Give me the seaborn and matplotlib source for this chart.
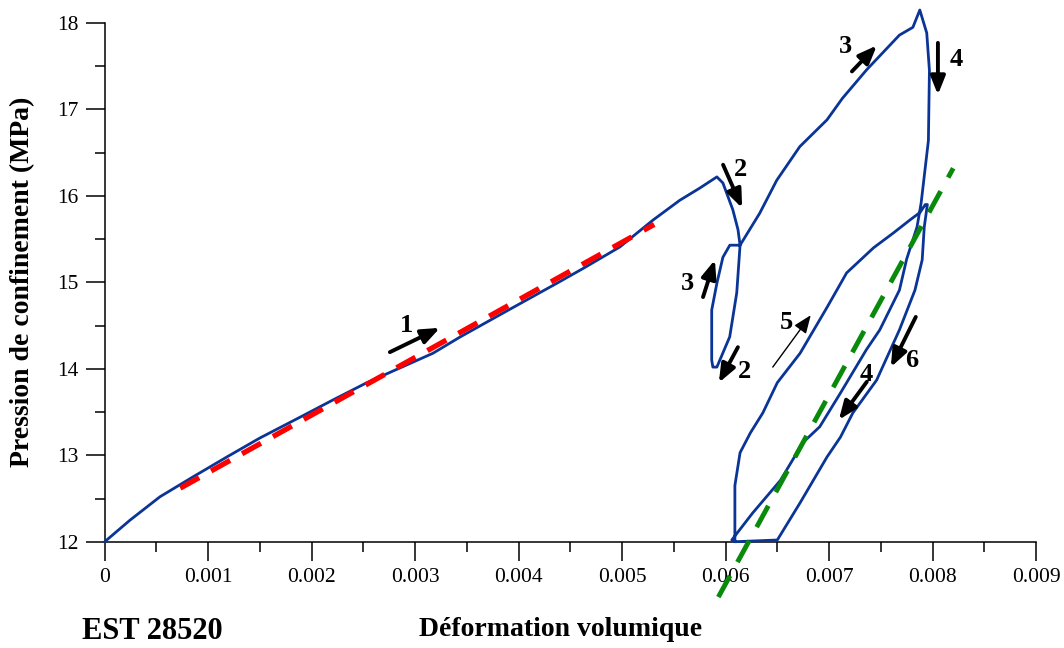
import pandas as pd
import seaborn as sns
import matplotlib.pyplot as plt
from matplotlib.ticker import AutoMinorLocator

# volumetric strain vs confining pressure (MPa) in test order
# 1 loading, 2 unloading, 3 reloading, 4 unloading, 5 reloading, 6 unloading
strain = [
    0.0, 0.000245, 0.000534, 0.000853, 0.00118, 0.0015, 0.001887, 0.002206,
    0.002534, 0.002853, 0.003172, 0.003437, 0.003887, 0.00437, 0.004622,
    0.004979, 0.005298, 0.005558, 0.00575, 0.005916,
    0.005974, 0.00607, 0.00612, 0.00614, 0.006108, 0.00604, 0.005916,
    0.005877, 0.005866, 0.005866, 0.005916, 0.005974, 0.006041, 0.00614,
    0.00633, 0.006494, 0.006717, 0.00698, 0.00713, 0.007364, 0.00768,
    0.00781, 0.007877,
    0.007944, 0.00797, 0.00796, 0.00789, 0.00785, 0.00775, 0.00768, 0.00749,
    0.00736, 0.00711, 0.00691, 0.00675, 0.00653, 0.00626, 0.00606,
    0.00609, 0.00609, 0.00614, 0.00624, 0.00636, 0.0065, 0.00672, 0.00698,
    0.00717, 0.00743, 0.00762, 0.00778, 0.00788, 0.00793,
    0.00795, 0.00792, 0.0079, 0.00783, 0.00768, 0.00746, 0.00723, 0.00711,
    0.00698, 0.00672, 0.0065, 0.00609,
]
pressure = [
    12.0, 12.25, 12.52, 12.75, 12.98, 13.2, 13.44, 13.64,
    13.84, 14.01, 14.18, 14.37, 14.67, 14.99, 15.16,
    15.41, 15.72, 15.95, 16.09, 16.22,
    16.15, 15.84, 15.61, 15.43, 14.88, 14.37, 14.02,
    14.02, 14.1, 14.68, 14.99, 15.29, 15.43, 15.43,
    15.8, 16.18, 16.57, 16.88, 17.13, 17.46, 17.86,
    17.95, 18.15,
    17.885, 17.45, 16.64, 15.92, 15.64, 15.27, 14.91, 14.45,
    14.22, 13.72, 13.33, 13.15, 12.71, 12.33, 12.02,
    12.0, 12.65, 13.03, 13.26, 13.49, 13.84, 14.18, 14.71,
    15.11, 15.4, 15.57, 15.72, 15.81, 15.9,
    15.9, 15.64, 15.26, 14.91, 14.45, 13.87, 13.49, 13.21,
    12.98, 12.45, 12.02, 12.0,
]

# straight lines drawn over the curve
red_x = [0.00073, 0.00531]
red_y = [12.62, 15.67]
green_x = [0.00593, 0.0082]
green_y = [11.36, 16.32]

x_ticks = [0, 0.001, 0.002, 0.003, 0.004, 0.005, 0.006, 0.007, 0.008, 0.009]
x_tick_labels = ["0", "0.001", "0.002", "0.003", "0.004",
                 "0.005", "0.006", "0.007", "0.008", "0.009"]
y_ticks = [12, 13, 14, 15, 16, 17, 18]
y_tick_labels = ["12", "13", "14", "15", "16", "17", "18"]

# step arrows: label, tail, head, label position, shaft width
steps = [
    ("1", (0.002756, 14.193), (0.00324, 14.474), (0.00292, 14.50), 2.8),
    ("2", (0.005976, 16.36), (0.00616, 15.86), (0.00614, 16.30), 2.8),
    ("3", (0.005782, 14.83), (0.005897, 15.26), (0.005636, 14.99), 2.8),
    ("2", (0.006119, 14.25), (0.005935, 13.84), (0.006186, 13.97), 2.8),
    ("3", (0.007221, 17.44), (0.007462, 17.74), (0.007163, 17.73), 2.8),
    ("4", (0.008052, 17.77), (0.008052, 17.17), (0.008226, 17.58), 2.8),
    ("5", (0.006456, 14.02), (0.006823, 14.62), (0.006592, 14.54), 1.0),
    ("4", (0.007365, 13.85), (0.007095, 13.41), (0.007355, 13.93), 2.8),
    ("6", (0.007838, 14.60), (0.007597, 14.02), (0.007803, 14.10), 2.8),
]

sns.set_style("ticks")
plt.rcParams["font.family"] = ["Liberation Serif", "DejaVu Serif"]
plt.rcParams["text.color"] = "black"
plt.rcParams["xtick.color"] = "black"
plt.rcParams["ytick.color"] = "black"

fig = plt.figure(figsize=(10.64, 6.48), dpi=100)
ax = fig.add_axes([0.0984, 0.164, 0.8753, 0.8005])

df = pd.DataFrame({"strain": strain, "pressure": pressure})
sns.lineplot(data=df, x="strain", y="pressure", sort=False, estimator=None,
             color="#0a3596", lw=2.0, ax=ax, zorder=3)
ax.lines[-1].set_clip_on(False)

sns.lineplot(x=red_x, y=red_y, color="#ff0000", lw=3.8, ax=ax, zorder=4)
red_line = ax.lines[-1]
red_line.set_dashes((4.1, 2.6))
red_line.set_dash_capstyle("butt")

sns.lineplot(x=green_x, y=green_y, color="#0a8a0a", lw=3.5, ax=ax, zorder=4)
green_line = ax.lines[-1]
green_line.set_dashes((5.0, 3.2))
green_line.set_dash_capstyle("butt")
green_line.set_clip_on(False)

for label, tail, head, text_pos, shaft in steps:
    ax.annotate("", xy=head, xytext=tail,
                arrowprops=dict(arrowstyle="-|>,head_length=0.55,head_width=0.22",
                                lw=shaft, color="black", mutation_scale=20,
                                shrinkA=0, shrinkB=0), zorder=5)
    ax.text(text_pos[0], text_pos[1], label, fontsize=19, fontweight="bold",
            ha="center", va="center", color="black", zorder=5)

ax.set_xlim(0, 0.009)
ax.set_ylim(12, 18)
ax.set_xticks(x_ticks)
ax.set_xticklabels(x_tick_labels)
ax.set_yticks(y_ticks)
ax.set_yticklabels(y_tick_labels)
ax.xaxis.set_minor_locator(AutoMinorLocator(2))
ax.yaxis.set_minor_locator(AutoMinorLocator(2))
ax.tick_params(which="major", direction="out", length=14, width=1.1,
               labelsize=15.5, pad=5, colors="black")
ax.tick_params(which="minor", direction="out", length=7, width=1.1,
               colors="black")
ax.set_xlabel("")
ax.set_ylabel("")
sns.despine(ax=ax)
for side in ["left", "bottom"]:
    ax.spines[side].set_linewidth(1.1)
    ax.spines[side].set_color("black")

fig.text(0.021, 0.565, "Pression de confinement (MPa)", rotation=90,
         fontsize=20, fontweight="bold", ha="center", va="center",
         color="black")
fig.text(0.527, 0.028, "Déformation volumique", fontsize=20,
         fontweight="bold", ha="center", va="center", color="black")
fig.text(0.077, 0.026, "EST 28520", fontsize=22, fontweight="bold",
         ha="left", va="center", color="black")

fig.savefig("out.png", dpi=100)
